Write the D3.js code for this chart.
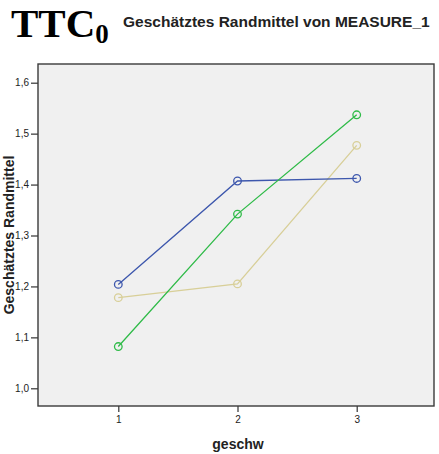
<!DOCTYPE html>
<html>
<head>
<meta charset="utf-8">
<script src="https://cdn.jsdelivr.net/npm/d3@7"></script>
<style>
  html, body { margin: 0; padding: 0; background: #ffffff; }
  svg { display: block; }
</style>
</head>
<body>
<svg id="chart" width="439" height="454"></svg>
<script>
// Levels of the factor "geschw"
const geschw = [1, 2, 3];
// Estimated marginal means per group
const seriesBlue  = [1.204, 1.407, 1.412];
const seriesGreen = [1.082, 1.342, 1.537];
const seriesBeige = [1.178, 1.205, 1.477];
const yTicks = [1.0, 1.1, 1.2, 1.3, 1.4, 1.5, 1.6];

const series = [
  { name: "beige", values: seriesBeige, color: "#d8cf98" },
  { name: "blue",  values: seriesBlue,  color: "#3d57ad" },
  { name: "green", values: seriesGreen, color: "#2fbb48" }
];

const svg = d3.select("#chart");
const frame = { left: 38, top: 64, right: 434, bottom: 406 };

const x = d3.scaleLinear().domain([1, 3]).range([118.3, 356.7]);
const y = d3.scaleLinear().domain([1.0, 1.6]).range([388.3, 82.7]);

const de = d3.formatLocale({ decimal: ",", thousands: ".", grouping: [3], currency: ["", " €"] });
const fmt = de.format(".1f");

// Plot area background
svg.append("rect")
  .attr("x", frame.left).attr("y", frame.top)
  .attr("width", frame.right - frame.left)
  .attr("height", frame.bottom - frame.top)
  .attr("fill", "#f0f0f0");

// Y axis
const yAxis = svg.append("g")
  .attr("transform", `translate(${frame.left},0)`)
  .call(d3.axisLeft(y).tickValues(yTicks).tickFormat(fmt).tickSize(7).tickPadding(2));
yAxis.select(".domain").remove();
yAxis.selectAll(".tick line").attr("stroke", "#333").attr("stroke-width", 1.2);
yAxis.selectAll(".tick text")
  .attr("font-family", "Liberation Sans, Arial, sans-serif")
  .attr("font-size", 10).attr("fill", "#222");

// X axis
const xAxis = svg.append("g")
  .attr("transform", `translate(0,${frame.bottom})`)
  .call(d3.axisBottom(x).tickValues(geschw).tickFormat(d3.format("d")).tickSize(6).tickPadding(4));
xAxis.select(".domain").remove();
xAxis.selectAll(".tick line").attr("stroke", "#333").attr("stroke-width", 1.2);
xAxis.selectAll(".tick text")
  .attr("font-family", "Liberation Sans, Arial, sans-serif")
  .attr("font-size", 10).attr("fill", "#222");

// Lines and hollow circle markers
const line = d3.line().x((d, i) => x(geschw[i])).y(d => y(d));
series.forEach(s => {
  svg.append("path")
    .datum(s.values)
    .attr("d", line)
    .attr("fill", "none")
    .attr("stroke", s.color)
    .attr("stroke-width", 1.3);
  svg.append("g").selectAll("circle")
    .data(s.values)
    .join("circle")
    .attr("cx", (d, i) => x(geschw[i]))
    .attr("cy", d => y(d))
    .attr("r", 3.8)
    .attr("fill", "none")
    .attr("stroke", s.color)
    .attr("stroke-width", 1.3);
});

// Plot frame
svg.append("rect")
  .attr("x", frame.left).attr("y", frame.top)
  .attr("width", frame.right - frame.left)
  .attr("height", frame.bottom - frame.top)
  .attr("fill", "none")
  .attr("stroke", "#3a3a3a")
  .attr("stroke-width", 1.4);

// Axis titles
svg.append("text")
  .attr("x", (frame.left + frame.right) / 2 + 2)
  .attr("y", 449)
  .attr("text-anchor", "middle")
  .attr("font-family", "Liberation Sans, Arial, sans-serif")
  .attr("font-weight", "bold")
  .attr("font-size", 14)
  .attr("fill", "#222")
  .text("geschw");

svg.append("text")
  .attr("transform", `translate(13.5,${(frame.top + frame.bottom) / 2}) rotate(-90)`)
  .attr("text-anchor", "middle")
  .attr("font-family", "Liberation Sans, Arial, sans-serif")
  .attr("font-weight", "bold")
  .attr("font-size", 14)
  .attr("fill", "#222")
  .text("Geschätztes Randmittel");

// Titles
const big = svg.append("text")
  .attr("x", 11).attr("y", 37)
  .attr("font-family", "Liberation Serif, Times New Roman, serif")
  .attr("font-weight", "bold")
  .attr("font-size", 41)
  .attr("fill", "#000");
big.append("tspan").text("TTC");
big.append("tspan").attr("font-size", 27).attr("dy", 6).text("0");

svg.append("text")
  .attr("x", 123).attr("y", 27)
  .attr("font-family", "Liberation Sans, Arial, sans-serif")
  .attr("font-weight", "bold")
  .attr("font-size", 15.5)
  .attr("fill", "#222")
  .text("Geschätztes Randmittel von MEASURE_1");
</script>
</body>
</html>
